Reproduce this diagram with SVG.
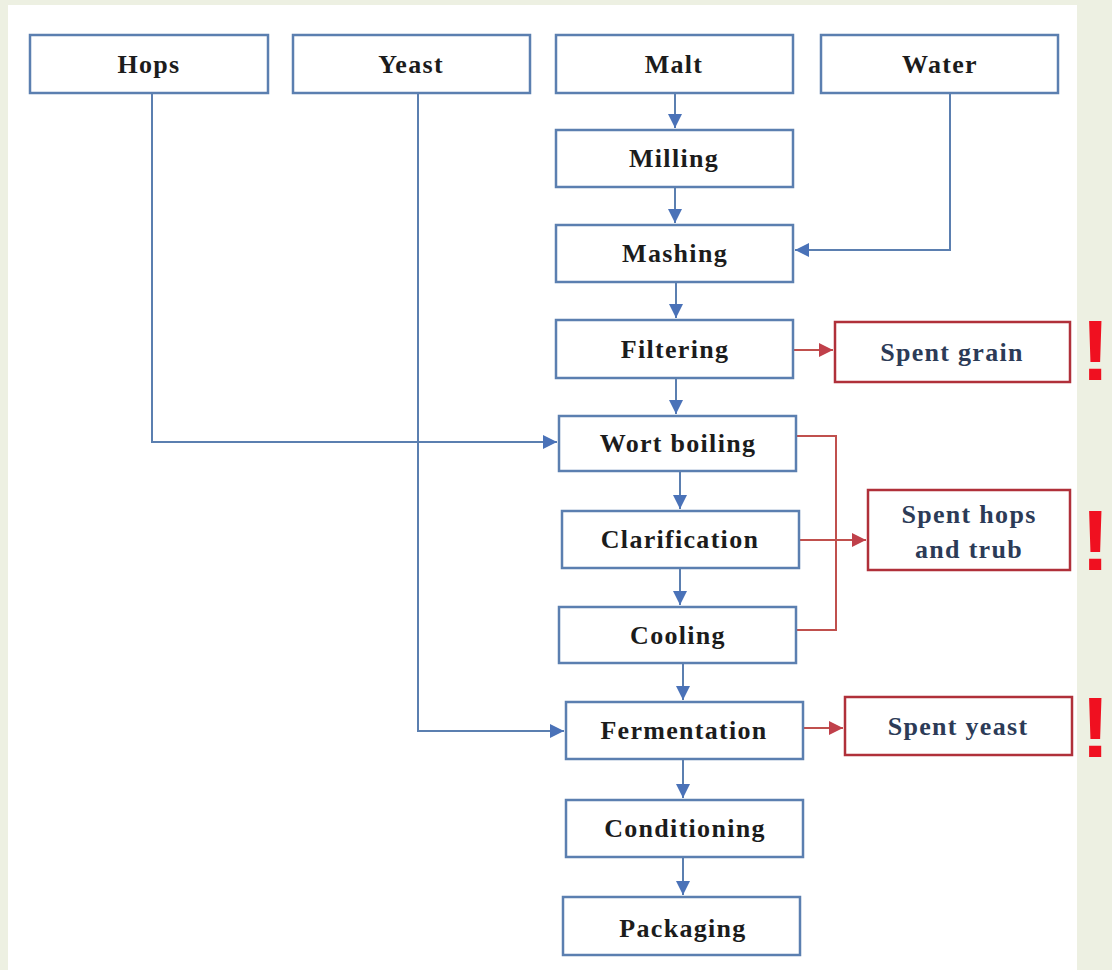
<svg xmlns="http://www.w3.org/2000/svg" width="1112" height="970" viewBox="0 0 1112 970">
<defs>
<style>
.bx{fill:#ffffff;stroke:#5b7fb0;stroke-width:2.5}
.rx{fill:#ffffff;stroke:#b0303a;stroke-width:2.5}
.t{font-family:"Liberation Serif",serif;font-weight:bold;font-size:26px;letter-spacing:1.3px;fill:#1c1c1c;text-anchor:middle}
.rt{font-family:"Liberation Serif",serif;font-weight:bold;font-size:26px;letter-spacing:1.3px;fill:#2c3b57;text-anchor:middle}
.bl{fill:none;stroke:#5b7fb0;stroke-width:2}
.rl{fill:none;stroke:#c0504d;stroke-width:2}
.ex{font-family:"Liberation Sans",sans-serif;font-weight:bold;font-size:86px;fill:#f01020}
</style>
<marker id="ab" viewBox="0 0 10 10" refX="10" refY="5" markerWidth="15" markerHeight="14" markerUnits="userSpaceOnUse" orient="auto"><path d="M0,0 L10,5 L0,10 z" fill="#4a72b8"/></marker>
<marker id="ar" viewBox="0 0 10 10" refX="10" refY="5" markerWidth="15" markerHeight="14" markerUnits="userSpaceOnUse" orient="auto"><path d="M0,0 L10,5 L0,10 z" fill="#c0404a"/></marker>
</defs>
<rect x="0" y="0" width="1112" height="970" fill="#edf0e2"/>
<rect x="8" y="5" width="1069" height="965" fill="#ffffff"/>

<g id="connectors">
<path class="bl" d="M675,93 V128" marker-end="url(#ab)"/>
<path class="bl" d="M675,187 V223" marker-end="url(#ab)"/>
<path class="bl" d="M676,282 V318" marker-end="url(#ab)"/>
<path class="bl" d="M676,378 V414" marker-end="url(#ab)"/>
<path class="bl" d="M680,471 V509" marker-end="url(#ab)"/>
<path class="bl" d="M680,568 V605" marker-end="url(#ab)"/>
<path class="bl" d="M683,663 V700" marker-end="url(#ab)"/>
<path class="bl" d="M683,759 V798" marker-end="url(#ab)"/>
<path class="bl" d="M683,857 V895" marker-end="url(#ab)"/>
<path class="bl" d="M152,93 V442 H557" marker-end="url(#ab)"/>
<path class="bl" d="M418,93 V731 H564" marker-end="url(#ab)"/>
<path class="bl" d="M950,93 V250 H795" marker-end="url(#ab)"/>
<path class="rl" d="M793,350 H833" marker-end="url(#ar)"/>
<path class="rl" d="M796,436 H836 V630 H796"/>
<path class="rl" d="M799,540 H866" marker-end="url(#ar)"/>
<path class="rl" d="M803,728 H843" marker-end="url(#ar)"/>
</g>

<g id="hops"><rect class="bx" x="30" y="35" width="238" height="58"/><text class="t" x="149" y="73">Hops</text></g>
<g id="yeast"><rect class="bx" x="293" y="35" width="237" height="58"/><text class="t" x="411" y="73">Yeast</text></g>
<g id="malt"><rect class="bx" x="556" y="35" width="237" height="58"/><text class="t" x="674" y="73">Malt</text></g>
<g id="water"><rect class="bx" x="821" y="35" width="237" height="58"/><text class="t" x="940" y="73">Water</text></g>
<g id="milling"><rect class="bx" x="556" y="130" width="237" height="57"/><text class="t" x="674" y="167">Milling</text></g>
<g id="mashing"><rect class="bx" x="556" y="225" width="237" height="57"/><text class="t" x="675" y="262">Mashing</text></g>
<g id="filtering"><rect class="bx" x="556" y="320" width="237" height="58"/><text class="t" x="675" y="358">Filtering</text></g>
<g id="wort-boiling"><rect class="bx" x="559" y="416" width="237" height="55"/><text class="t" x="678" y="452">Wort boiling</text></g>
<g id="clarification"><rect class="bx" x="562" y="511" width="237" height="57"/><text class="t" x="680" y="548">Clarification</text></g>
<g id="cooling"><rect class="bx" x="559" y="607" width="237" height="56"/><text class="t" x="678" y="644">Cooling</text></g>
<g id="fermentation"><rect class="bx" x="566" y="702" width="237" height="57"/><text class="t" x="684" y="739">Fermentation</text></g>
<g id="conditioning"><rect class="bx" x="566" y="800" width="237" height="57"/><text class="t" x="685" y="837">Conditioning</text></g>
<g id="packaging"><rect class="bx" x="563" y="897" width="237" height="58"/><text class="t" x="683" y="937">Packaging</text></g>

<g id="spent-grain"><rect class="rx" x="835" y="322" width="235" height="60"/><text class="rt" x="952" y="361">Spent grain</text></g>
<g id="spent-hops"><rect class="rx" x="868" y="490" width="202" height="80"/><text class="rt" x="969" y="523">Spent hops</text><text class="rt" x="969" y="558">and trub</text></g>
<g id="spent-yeast"><rect class="rx" x="845" y="697" width="227" height="58"/><text class="rt" x="958" y="735">Spent yeast</text></g>

<g id="marks">
<text class="ex" x="1081" y="380">!</text>
<text class="ex" x="1081" y="570">!</text>
<text class="ex" x="1081" y="757">!</text>
</g>
</svg>
